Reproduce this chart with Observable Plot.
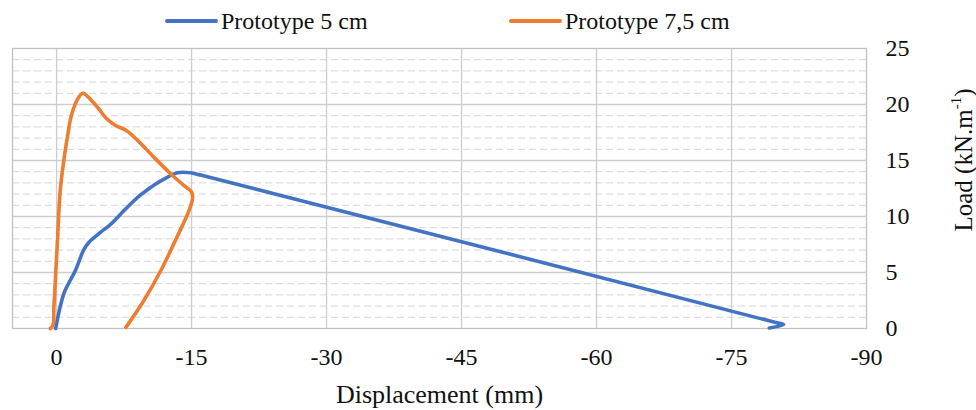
<!DOCTYPE html>
<html><head><meta charset="utf-8">
<script src="https://cdn.jsdelivr.net/npm/d3@7"></script>
<script src="https://cdn.jsdelivr.net/npm/@observablehq/plot@0.6"></script>
<style>
body{margin:0;background:#fff;font-family:"Liberation Serif","Times New Roman",serif;color:#111;}
#wrap{position:relative;width:976px;height:410px;overflow:hidden;}
.leg{position:absolute;top:7px;height:28px;display:flex;align-items:center;font-size:24px;color:#111;white-space:nowrap;z-index:2;}
.sw{display:inline-block;width:53px;height:4px;margin-right:3px;border-radius:2px}
#chart{position:absolute;top:0;left:0}
#ylab{position:absolute;left:963px;top:160px;transform:translate(-50%,-50%) rotate(-90deg);font-size:25px;white-space:nowrap;line-height:1;z-index:2;}
#ylab sup{font-size:15px;vertical-align:0;position:relative;top:-11px;}
</style></head><body>
<div id="wrap">
<div id="chart"></div>
<div id="legend"></div>
<div id="ylab">Load (kN.m<sup>-1</sup>)</div>
</div>
<script>
const seriesNames = ["Prototype 5 cm", "Prototype 7,5 cm"];
const seriesColors = ["#4472C4", "#ED7D31"];

// Prototype 5 cm: displacement (mm), load (kN/m)
const disp5 = [0.1, -0.8, -2.1, -3.0, -3.6, -4.9, -6.0, -7.1, -8.2, -9.3, -10.8, -12.3, -13.4, -14.9, -16.0, -79.6, -80.8, -79.2];
const load5 = [0, 3.1, 5.2, 7.0, 7.7, 8.6, 9.3, 10.2, 11.1, 11.9, 12.8, 13.5, 13.9, 13.9, 13.7, 0.6, 0.35, 0.05];

// Prototype 7,5 cm
const disp75 = [0.7, 0.4, 0.3, -0.1, -0.4, -0.8, -1.2, -1.7, -2.5, -2.9, -3.2, -4.5, -5.6, -6.6, -7.7, -9.0, -10.8, -12.7, -14.1, -15.0, -15.1, -14.7, -13.4, -11.6, -9.7, -7.7];
const load75 = [0, 0.3, 1.9, 7.9, 12.3, 15.0, 17.1, 19.2, 20.7, 21.0, 20.9, 19.8, 18.7, 18.1, 17.7, 16.8, 15.3, 13.8, 12.8, 12.2, 11.6, 10.5, 8.2, 5.2, 2.5, 0.1];

const xTicks = [0, -15, -30, -45, -60, -75, -90];
const yTicks = [0, 5, 10, 15, 20, 25];
const yMinor = [1,2,3,4,6,7,8,9,11,12,13,14,16,17,18,19,21,22,23,24];
const xLabel = "Displacement (mm)";

const data = [
  ...disp5.map((d, i) => ({series: seriesNames[0], x: d, y: load5[i]})),
  ...disp75.map((d, i) => ({series: seriesNames[1], x: d, y: load75[i]}))
];

// legend
const legPos = [165, 509];
const legend = document.getElementById("legend");
seriesNames.forEach((n, i) => {
  const div = document.createElement("div");
  div.className = "leg";
  div.style.left = legPos[i] + "px";
  div.innerHTML = `<span class="sw" style="background:${seriesColors[i]}"></span>${n}`;
  legend.appendChild(div);
});

const chart = Plot.plot({
  width: 976, height: 410,
  marginLeft: 12, marginRight: 110, marginTop: 48, marginBottom: 82,
  style: {fontFamily: "'Liberation Serif', 'Times New Roman', serif", fontSize: "24px", color: "#111", background: "#fff"},
  x: {domain: [4.9, -90]},
  y: {domain: [0, 25]},
  color: {domain: seriesNames, range: seriesColors},
  marks: [
    Plot.gridY(yMinor, {stroke: "#d6d6d6", strokeOpacity: 1, strokeWidth: 1, strokeDasharray: "7,4"}),
    Plot.gridY(yTicks.slice(1, -1), {stroke: "#cdcdcd", strokeOpacity: 1, strokeWidth: 1.3}),
    Plot.gridX(xTicks.slice(0, -1), {stroke: "#cdcdcd", strokeOpacity: 1, strokeWidth: 1.3}),
    Plot.frame({stroke: "#c2c2c2", strokeWidth: 1.3}),
    Plot.axisX(xTicks, {tickSize: 0, tickPadding: 19, tickFormat: d => String(d), label: null, fontSize: 24}),
    Plot.text([xLabel], {frameAnchor: "bottom", textAnchor: "middle", dy: 74, fontSize: 26, fill: "#111"}),
    Plot.axisY(yTicks, {anchor: "right", tickSize: 0, tickPadding: 19, textAnchor: "start", tickFormat: d => String(d), label: null, fontSize: 24}),
    Plot.line(data, {x: "x", y: "y", z: "series", stroke: "series", strokeWidth: 3.6, curve: "catmull-rom", strokeLinejoin: "round", strokeLinecap: "round"})
  ]
});
document.getElementById("chart").appendChild(chart);
</script>
</body></html>
